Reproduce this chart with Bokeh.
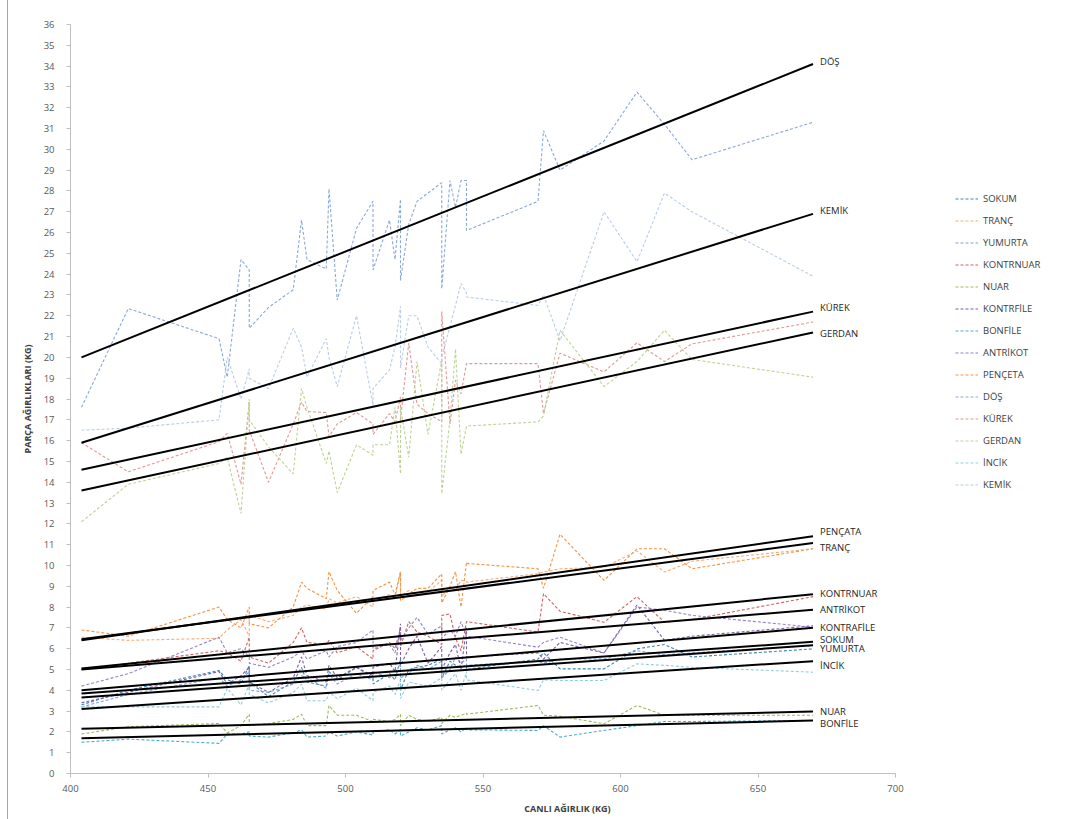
from bokeh.plotting import figure
from bokeh.models import Range1d, FixedTicker, Legend, LegendItem, ColumnDataSource
from bokeh.embed import file_html
from bokeh.resources import INLINE
from bokeh.core.properties import value

# ---------------- data ----------------
LIVE_WEIGHT = [404, 421, 454, 457, 462, 465, 465, 472, 481, 484, 486, 493, 494, 497, 504,
               510, 510, 516, 518, 520, 520, 523, 526, 530, 535, 535, 538, 540, 542, 544,
               544, 570, 572, 578, 594, 606, 616, 626, 670]

SOKUM = [3.3, 4.0, 4.95, 4.5, 4.3, 5.2, 4.4, 3.7, 4.4, 5.1, 4.4, 4.2, 4.9, 4.5, 5.1, 4.6, 4.3, 4.8, 4.5, 5.5,
         4.0, 5.0, 5.1, 5.2, 5.5, 4.6, 5.4, 5.2, 5.1, 5.2, 5.0, 5.5, 5.8, 5.03, 5.03, 5.99, 6.2, 5.6, 5.99]
TRANC = [6.55, 6.4, 6.5, 6.9, 7.4, 6.6, 7.6, 7.3, 7.6, 8.0, 8.1, 7.9, 8.4, 8.2, 8.5, 8.0, 8.3, 8.6, 8.4, 9.7,
         8.5, 8.8, 8.6, 8.7, 9.3, 8.5, 9.0, 8.8, 9.3, 9.2, 9.2, 9.6, 9.68, 9.84, 9.9, 10.7, 9.68, 10.2, 10.8]
YUMURTA = [3.2, 3.8, 4.6, 4.2, 4.5, 4.9, 4.0, 3.9, 4.3, 4.7, 4.6, 4.1, 4.8, 4.3, 4.8, 4.5, 4.9, 4.6, 4.8, 5.3,
           4.6, 4.8, 5.2, 5.0, 5.4, 4.6, 5.0, 5.6, 5.3, 5.5, 5.2, 5.4, 5.3, 5.5, 5.5, 5.9, 5.7, 5.8, 6.15]
KONTRNUAR = [5.0, 5.3, 5.9, 5.8, 5.4, 6.55, 5.6, 5.3, 6.3, 7.0, 6.3, 6.2, 6.4, 5.8, 6.1, 5.5, 5.9, 6.3, 6.0, 7.0,
             6.1, 7.3, 6.8, 6.6, 6.2, 7.6, 7.67, 6.5, 5.9, 7.3, 7.3, 6.8, 8.64, 7.8, 7.27, 8.5, 7.27, 7.4, 8.5]
NUAR = [1.9, 2.25, 2.4, 1.95, 2.3, 2.85, 2.3, 2.4, 2.6, 2.85, 2.3, 2.3, 3.27, 2.8, 2.8, 2.5, 2.6, 2.5, 2.6, 2.85,
        2.3, 2.8, 2.6, 2.5, 2.7, 2.4, 2.8, 2.7, 2.8, 2.9, 2.85, 3.27, 2.8, 2.75, 2.39, 3.27, 2.8, 2.8, 2.8]
KONTRFILE = [3.4, 3.9, 4.9, 4.3, 4.7, 5.1, 4.4, 3.9, 4.6, 5.6, 4.7, 4.4, 5.2, 4.6, 5.1, 4.7, 5.1, 5.3, 4.9, 7.2,
             5.2, 6.0, 6.6, 5.3, 6.1, 5.0, 5.8, 6.2, 5.0, 7.0, 5.6, 5.8, 5.5, 6.3, 5.79, 8.1, 6.4, 6.6, 7.1]
BONFILE = [1.5, 1.65, 1.45, 1.9, 1.9, 2.0, 1.8, 1.75, 1.95, 2.1, 1.75, 1.8, 2.0, 1.8, 2.0, 1.85, 2.0, 2.1, 1.9, 2.1,
           1.8, 2.0, 2.2, 2.1, 2.3, 1.9, 2.1, 2.2, 2.0, 2.2, 2.1, 2.07, 2.3, 1.75, 2.07, 2.3, 2.5, 2.5, 2.55]
ANTRIKOT = [4.2, 4.8, 6.55, 5.8, 6.0, 5.6, 5.3, 5.1, 5.6, 5.9, 5.5, 5.9, 5.6, 6.1, 6.3, 6.9, 6.0, 6.2, 5.8, 6.8,
            6.4, 7.0, 7.5, 6.7, 7.1, 6.5, 6.9, 6.6, 7.3, 6.6, 6.6, 6.07, 6.3, 6.55, 5.79, 8.0, 7.85, 7.6, 7.03]
PENCETA = [6.9, 6.6, 8.0, 7.4, 7.0, 8.0, 7.2, 7.0, 8.0, 9.2, 8.9, 8.4, 9.7, 8.8, 7.7, 8.5, 8.8, 9.2, 8.6, 9.7,
           8.3, 8.6, 8.9, 8.9, 9.6, 8.2, 9.0, 9.7, 8.0, 10.15, 10.1, 9.84, 8.9, 11.5, 9.28, 10.8, 10.8, 9.84, 10.8]
DOS = [17.6, 22.35, 20.9, 19.05, 24.7, 24.2, 21.4, 22.4, 23.25, 26.6, 24.7, 24.25, 28.1, 22.75, 26.2, 27.5, 24.2,
       26.6, 24.7, 27.6, 23.7, 26.4, 27.5, 27.9, 28.4, 23.3, 28.5, 27.2, 28.5, 28.5, 26.1, 27.5, 30.9, 29.0, 30.4,
       32.75, 31.2, 29.5, 31.3]
KUREK = [15.9, 14.5, 15.95, 16.35, 13.9, 17.85, 16.5, 14.0, 16.8, 17.85, 17.4, 17.35, 16.2, 16.8, 17.35, 16.8,
         16.3, 17.3, 16.9, 18.1, 17.0, 20.7, 17.75, 17.3, 16.9, 22.2, 16.8, 18.9, 18.25, 19.7, 19.7, 19.7, 17.3,
         20.2, 19.3, 20.7, 19.8, 20.65, 21.7]
GERDAN = [12.1, 13.9, 14.9, 15.2, 12.5, 18.0, 17.0, 15.7, 14.4, 18.5, 17.6, 14.9, 15.5, 13.5, 15.8, 15.3, 15.8,
          15.8, 17.6, 14.4, 17.6, 15.2, 19.8, 16.3, 19.85, 13.45, 17.0, 20.4, 15.35, 16.7, 16.7, 16.9, 17.2, 21.3,
          18.6, 19.8, 21.3, 19.9, 19.05]
INCIK = [3.2, 3.2, 3.2, 4.1, 3.3, 4.3, 3.8, 3.4, 3.9, 4.3, 3.5, 3.5, 3.9, 3.6, 4.1, 3.5, 3.9, 4.2, 3.8, 4.5,
         3.6, 4.4, 4.3, 4.2, 4.6, 4.0, 4.5, 4.8, 4.0, 4.9, 4.5, 3.99, 4.5, 4.47, 4.47, 5.27, 5.2, 5.1, 4.87]
KEMIK = [16.5, 16.6, 17.0, 20.0, 18.0, 19.45, 19.0, 18.5, 21.4, 20.5, 19.05, 20.9, 20.0, 18.6, 22.0, 17.7, 18.5,
         19.4, 20.5, 22.45, 19.5, 22.0, 22.0, 20.5, 19.7, 20.0, 21.5, 22.5, 23.55, 23.1, 22.9, 22.5, 23.0, 20.8,
         27.0, 24.6, 27.9, 27.0, 23.9]

SERIES_NAMES = ["SOKUM", "TRANÇ", "YUMURTA", "KONTRNUAR", "NUAR", "KONTRFİLE", "BONFİLE",
                "ANTRİKOT", "PENÇETA", "DÖŞ", "KÜREK", "GERDAN", "İNCİK", "KEMİK"]
SERIES_VALUES = [SOKUM, TRANC, YUMURTA, KONTRNUAR, NUAR, KONTRFILE, BONFILE,
                 ANTRIKOT, PENCETA, DOS, KUREK, GERDAN, INCIK, KEMIK]
SERIES_COLORS = ["#3C86B4", "#F4AE78", "#7F9FD6", "#D0625F", "#9BBB59", "#7B5EA7", "#4BACC6",
                 "#9683C2", "#F7923F", "#8AA8DA", "#DE9A98", "#BDD394", "#92CDDC", "#B9CDE8"]

# linear trend lines (value at lightest and heaviest animal)
TREND_START = [3.85, 6.45, 3.65, 5.05, 2.15, 4.0, 1.7, 5.0, 6.4, 20.0, 14.6, 13.6, 3.1, 15.9]
TREND_END = [6.33, 11.08, 6.17, 8.62, 2.98, 7.0, 2.55, 7.87, 11.4, 34.1, 22.2, 21.2, 5.4, 26.9]
TREND_LABELS = ["SOKUM", "TRANÇ", "YUMURTA", "KONTRNUAR", "NUAR", "KONTRAFİLE", "BONFİLE",
                "ANTRİKOT", "PENÇATA", "DÖŞ", "KÜREK", "GERDAN", "İNCİK", "KEMİK"]
TREND_LABEL_Y = [6.42, 10.88, 5.99, 8.64, 2.99, 7.0, 2.42, 7.87, 11.63, 34.23, 22.4, 21.14, 5.19, 27.07]

X_MIN, X_MAX = 400, 700
X_TICKS = [400, 450, 500, 550, 600, 650, 700]
Y_TICKS = list(range(0, 37))

FONT = "Open Sans"
TEXT_COLOR = "#404040"
AXIS_COLOR = "#BFBFBF"

# ---------------- layout (pixels) ----------------
FIG_W, FIG_H = 1058, 819          # figure shifted 8px right by the chart's left border line
LEFT, TOP, BOTTOM = 62, 24, 46
FRAME_W = FIG_W - LEFT - 2
PX_PER_KG = 825 / (X_MAX - X_MIN)  # axis 400..700 spans 825px
x_view_end = X_MIN + FRAME_W / PX_PER_KG   # frame extends right so the legend can sit inside it

p = figure(width=FIG_W, height=FIG_H, x_range=Range1d(X_MIN, x_view_end), y_range=Range1d(0, 36),
           output_backend="svg", toolbar_location=None,
           min_border_left=LEFT, min_border_right=2, min_border_top=TOP, min_border_bottom=BOTTOM)
p.grid.visible = False
p.outline_line_color = None
p.background_fill_color = "white"
p.border_fill_color = "white"
p.styles = {"margin-left": "7px", "border-left": "1px solid #A6A6A6"}

for ax in (p.xaxis[0], p.yaxis[0]):
    ax.axis_line_color = AXIS_COLOR
    ax.major_tick_line_color = AXIS_COLOR
    ax.minor_tick_line_color = None
    ax.major_tick_in = 0
    ax.major_tick_out = 4
    ax.major_label_text_font = FONT
    ax.major_label_text_font_size = "9.5px"
    ax.major_label_text_color = "#595959"
    ax.axis_label_text_font = FONT
    ax.axis_label_text_font_size = "9px"
    ax.axis_label_text_font_style = "bold"
    ax.axis_label_text_color = TEXT_COLOR

p.xaxis.bounds = (X_MIN, X_MAX)
p.xaxis.ticker = FixedTicker(ticks=X_TICKS)
p.yaxis.ticker = FixedTicker(ticks=Y_TICKS)
p.xaxis.major_label_standoff = 7
p.yaxis.major_label_standoff = 12
p.xaxis.axis_label = "CANLI AĞIRLIK (KG)"
p.yaxis.axis_label = "PARÇA AĞIRLIKLARI (KG)"
p.xaxis.axis_label_standoff = 7
p.yaxis.axis_label_standoff = 7

data = {"x": LIVE_WEIGHT}
for i, vals in enumerate(SERIES_VALUES):
    data["s%d" % i] = vals
src = ColumnDataSource(data)

items = []
for i, (name, col) in enumerate(zip(SERIES_NAMES, SERIES_COLORS)):
    r = p.line("x", "s%d" % i, source=src, line_color=col, line_width=1.1, line_dash="3 2")
    items.append(LegendItem(label=name, renderers=[r]))

n = len(TREND_START)
trend_src = ColumnDataSource(dict(
    x0=[LIVE_WEIGHT[0]] * n, x1=[LIVE_WEIGHT[-1]] * n,
    y0=TREND_START, y1=TREND_END))
p.segment("x0", "y0", "x1", "y1", source=trend_src, line_color="black", line_width=2)

lab_src = ColumnDataSource(dict(x=[LIVE_WEIGHT[-1]] * n, y=TREND_LABEL_Y, t=TREND_LABELS))
p.text("x", "y", text="t", source=lab_src, x_offset=7, text_baseline="middle",
       text_font=value(FONT), text_font_size="9.5px", text_color="#262626")

legend = Legend(items=items, location=(885, 279), orientation="vertical",
                border_line_color=None, background_fill_alpha=0, padding=0, margin=0,
                spacing=3, glyph_width=23, glyph_height=19, label_height=19, label_standoff=5,
                label_text_font=FONT, label_text_font_size="9.5px", label_text_color=TEXT_COLOR)
p.add_layout(legend, "center")

open("out.html", "w").write(file_html(p, INLINE))
